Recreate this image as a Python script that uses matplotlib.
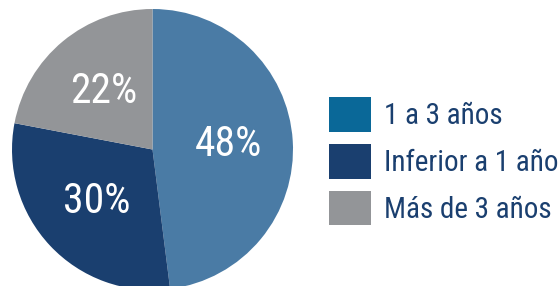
import matplotlib.pyplot as plt
from matplotlib.patches import Patch

labels = ['1 a 3 años', 'Inferior a 1 año', 'Más de 3 años']
values = [48, 30, 22]
pie_colors = ['#4a7ba5', '#1a3f6f', '#939598']
legend_colors = ['#0a6898', '#1a3f6f', '#939598']
text_color = '#1a3f6f'

plt.rcParams['font.family'] = ['Roboto Condensed', 'DejaVu Sans']

fig = plt.figure(figsize=(5.6, 2.86), dpi=100)
ax = fig.add_axes([0, 0, 1, 1])

wedges, texts, autotexts = ax.pie(values, colors=pie_colors, startangle=90, counterclock=False,
                                  center=(152.5, 136.5), radius=140.5, frame=True,
                                  autopct='%d%%', pctdistance=0.54,
                                  wedgeprops=dict(linewidth=0),
                                  textprops=dict(color='white', fontsize=30))
ax.set_xlim(0, 560)
ax.set_ylim(0, 286)
ax.set_aspect('equal')
ax.axis('off')

handles = [Patch(facecolor=c, edgecolor='none') for c in legend_colors]
leg = ax.legend(handles, labels, loc='upper left', bbox_to_anchor=(329 / 560, 1 - 97 / 286),
                frameon=False, fontsize=21, handlelength=1.45, handleheight=1.45,
                handletextpad=0.42, labelspacing=0.42, borderaxespad=0, borderpad=0)
for t in leg.get_texts():
    t.set_color(text_color)

fig.savefig('out.png', dpi=100)
